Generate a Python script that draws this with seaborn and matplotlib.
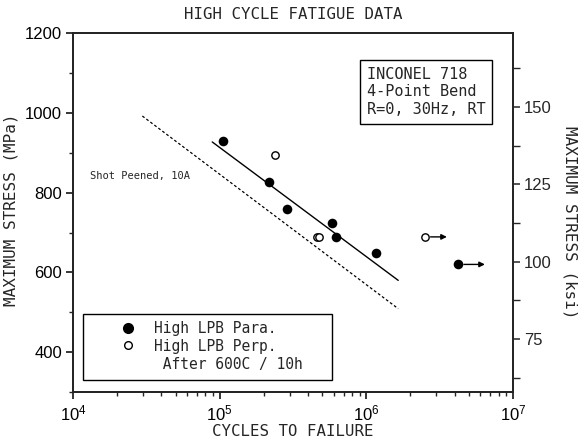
import matplotlib
matplotlib.use("Agg")
import matplotlib.pyplot as plt
import seaborn as sns
import numpy as np
from matplotlib.lines import Line2D
from matplotlib.patches import Rectangle
from matplotlib.ticker import FixedLocator, NullFormatter, LogLocator

# ---- data ----
para_cycles = [1.05e5, 2.18e5, 2.89e5, 5.79e5, 6.2e5, 1.17e6, 4.24e6]
para_stress = [930, 827, 758, 724, 689, 648, 620]
perp_cycles = [2.39e5, 4.58e5, 4.78e5, 2.51e6]
perp_stress = [894, 689, 689, 689]
# run-outs (start cycles, stress, arrow end cycles)
runout_para = (4.24e6, 620, 6.43e6)
runout_perp = (2.51e6, 689, 3.54e6)
# trend lines
fit_lpb_x = [8.9e4, 1.65e6]
fit_lpb_y = [927, 580]
fit_sp_x = [2.97e4, 1.65e6]
fit_sp_y = [992, 509]

mpa_ticks = [400, 600, 800, 1000, 1200]
mpa_minor = [300, 500, 700, 900, 1100]
ksi_ticks = [75, 100, 125, 150]
ksi_minor = [62.5, 87.5, 112.5, 137.5, 162.5]

title = "HIGH CYCLE FATIGUE DATA"
xlabel = "CYCLES TO FAILURE"
ylabel = "MAXIMUM STRESS (MPa)"
ylabel2 = "MAXIMUM STRESS (ksi)"
inset_text = "INCONEL 718\n4-Point Bend\nR=0, 30Hz, RT"
sp_label = "Shot Peened, 10A"
leg_labels = ["High LPB Para.", "High LPB Perp.", " After 600C / 10h"]

# ---- style ----
sns.set_style("ticks")
plt.rcParams['font.family'] = ['Liberation Sans', 'DejaVu Sans']
MONO = ['DejaVu Sans Mono']

fig = plt.figure(figsize=(5.79, 4.41), dpi=100)
ax = fig.add_axes([0.1261, 0.111, 0.886 - 0.1261, 0.925 - 0.111])

sns.lineplot(x=fit_lpb_x, y=fit_lpb_y, ax=ax, color='black', lw=1.0)
sns.lineplot(x=fit_sp_x, y=fit_sp_y, ax=ax, color='black', lw=0.9,
             linestyle=(0, (2.2, 1.8)))
sns.scatterplot(x=para_cycles, y=para_stress, ax=ax, color='black',
                edgecolor='black', linewidth=0, s=48, zorder=5)
sns.scatterplot(x=perp_cycles, y=perp_stress, ax=ax, facecolor='white',
                edgecolor='black', linewidth=1.0, s=28, zorder=5)

for (x0, y0, x1) in [runout_para, runout_perp]:
    ax.annotate("", xy=(x1, y0), xytext=(x0, y0),
                arrowprops=dict(arrowstyle='-|>', color='black', lw=1.0,
                                mutation_scale=8, shrinkA=4, shrinkB=0))

ax.set_xscale('log')
ax.set_xlim(1e4, 1e7)
ax.xaxis.set_minor_locator(LogLocator(base=10, subs=np.arange(2, 10), numticks=20))
ax.xaxis.set_minor_formatter(NullFormatter())
ax.set_ylim(300, 1200)
ax.yaxis.set_major_locator(FixedLocator(mpa_ticks))
ax.yaxis.set_minor_locator(FixedLocator(mpa_minor))
ax.yaxis.set_minor_formatter(NullFormatter())

for s in ax.spines.values():
    s.set_linewidth(1.2)
    s.set_color('black')
ax.tick_params(which='major', direction='out', length=5, width=1.1,
               labelsize=12, pad=3, colors='black', top=False, right=False)
ax.tick_params(which='minor', direction='out', length=3, width=1.0,
               top=False, right=False)

ax.set_title(title, family=MONO, fontsize=11.3, pad=10)
ax.set_xlabel(xlabel, family=MONO, fontsize=11.3, labelpad=1)
ax.set_ylabel(ylabel, family=MONO, fontsize=11.5)
ax.yaxis.set_label_coords(-0.125, 0.507)

ax2 = ax.twinx()
ax2.set_ylim(57.9, 173.9)
ax2.yaxis.set_major_locator(FixedLocator(ksi_ticks))
ax2.yaxis.set_minor_locator(FixedLocator(ksi_minor))
ax2.yaxis.set_minor_formatter(NullFormatter())
ax2.tick_params(which='major', direction='out', length=5, width=1.1,
                labelsize=12, pad=3)
ax2.tick_params(which='minor', direction='out', length=5, width=1.0)
ax2.set_ylabel(ylabel2, family=MONO, fontsize=11.5, rotation=-90,
               va='center')
ax2.yaxis.set_label_coords(1.13, 0.474)
for s in ax2.spines.values():
    s.set_linewidth(1.2)

ax.text(0.038, 0.602, sp_label, transform=ax.transAxes, family=MONO,
        fontsize=7.5, va='center', ha='left')
ax.text(0.668, 0.836, inset_text, transform=ax.transAxes, family=MONO,
        fontsize=11, va='center', ha='left', linespacing=1.2,
        bbox=dict(boxstyle='square,pad=0.45', fc='white', ec='black', lw=1.0))

# legend box
ax.add_patch(Rectangle((0.023, 0.033), 0.566, 0.184, transform=ax.transAxes,
                       fill=False, ec='black', lw=1.0, zorder=6))
handles = [
    Line2D([], [], marker='o', color='black', ls='none', ms=7),
    Line2D([], [], marker='o', mfc='white', mec='black', ls='none', ms=5.5),
    Line2D([], [], ls='none'),
]
leg = ax.legend(handles, leg_labels, loc='center left',
                bbox_to_anchor=(0.108, 0.128),
                frameon=False, prop=dict(family=MONO, size=10.5),
                handletextpad=1.28, labelspacing=0.2, borderpad=0,
                handlelength=1.0, borderaxespad=0)

fig.savefig("out.png", dpi=100)
